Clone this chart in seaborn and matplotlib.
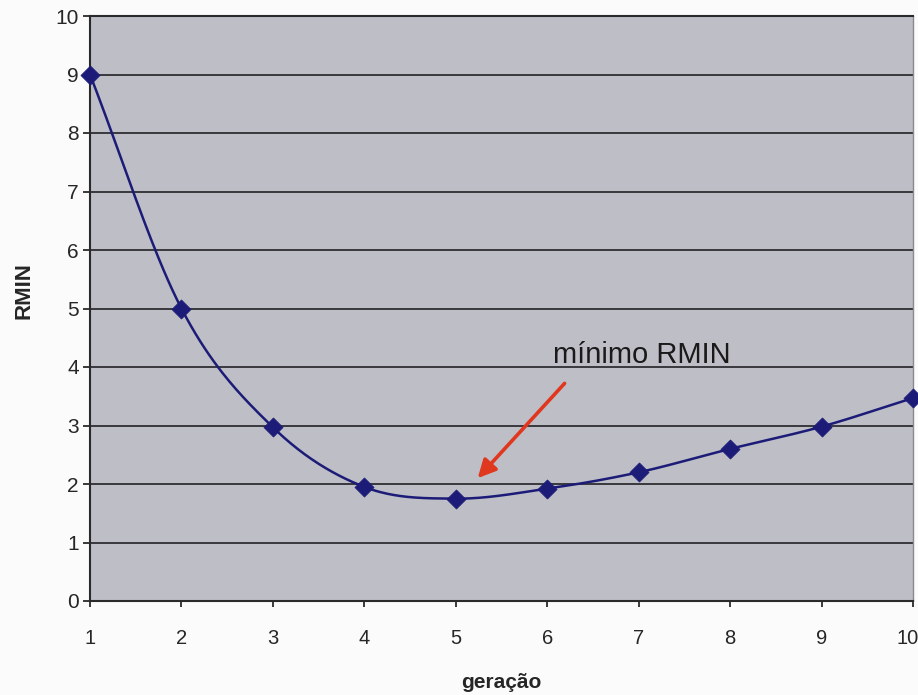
import numpy as np
import pandas as pd
import matplotlib
matplotlib.use("Agg")
import matplotlib.pyplot as plt
import matplotlib.transforms as mtransforms
import seaborn as sns

# RMIN per generation
geracao = [1, 2, 3, 4, 5, 6, 7, 8, 9, 10]
rmin = [9.0, 5.0, 2.97, 1.95, 1.75, 1.92, 2.2, 2.6, 2.98, 3.47]
y_ticks = [0, 1, 2, 3, 4, 5, 6, 7, 8, 9, 10]
annotation_text = "mínimo RMIN"

sns.set_theme(style="white")
plt.rcParams["font.family"] = ["Liberation Sans", "DejaVu Sans"]

df = pd.DataFrame({"geracao": geracao, "RMIN": rmin})


def catmull_rom(xs, ys, n=40):
    """Smoothed curve through the points (uniform Catmull-Rom spline)."""
    xs = np.asarray(xs, float)
    ys = np.asarray(ys, float)
    px = np.concatenate([[2 * xs[0] - xs[1]], xs, [2 * xs[-1] - xs[-2]]])
    py = np.concatenate([[2 * ys[0] - ys[1]], ys, [2 * ys[-1] - ys[-2]]])
    out_x, out_y = [], []
    t = np.linspace(0, 1, n, endpoint=False)
    for i in range(1, len(px) - 2):
        for arr, out in ((px, out_x), (py, out_y)):
            p0, p1, p2, p3 = arr[i - 1], arr[i], arr[i + 1], arr[i + 2]
            out.extend(0.5 * ((2 * p1) + (-p0 + p2) * t
                              + (2 * p0 - 5 * p1 + 4 * p2 - p3) * t ** 2
                              + (-p0 + 3 * p1 - 3 * p2 + p3) * t ** 3))
    out_x.append(xs[-1])
    out_y.append(ys[-1])
    return np.array(out_x), np.array(out_y)


sx, sy = catmull_rom(df["geracao"], df["RMIN"])
smooth = pd.DataFrame({"geracao": sx, "RMIN": sy})

fig = plt.figure(figsize=(9.18, 6.95), dpi=100)
fig.patch.set_facecolor("#fbfbfb")
ax = fig.add_axes([90 / 918, 1 - 601 / 695, 823 / 918, 585 / 695])
ax.set_facecolor("#bebec6")

navy = "#1c1c78"
sns.lineplot(data=smooth, x="geracao", y="RMIN", ax=ax, color=navy,
             linewidth=1.8, sort=False, estimator=None, zorder=3)
sns.scatterplot(data=df, x="geracao", y="RMIN", ax=ax, color=navy,
                marker="D", s=95, edgecolor=navy, linewidth=0.5,
                zorder=4, clip_on=False)

ax.set_xlim(1, 10)
ax.set_ylim(0, 10)
ax.set_yticks(y_ticks)
ax.set_xticks(geracao)
ax.yaxis.grid(True, color="#2e2e32", linewidth=1.3)
ax.xaxis.grid(False)
ax.set_axisbelow(True)

for side in ("left", "bottom", "top"):
    ax.spines[side].set_color("#2a2a2a")
    ax.spines[side].set_linewidth(1.5)
ax.spines["right"].set_color("#8a8a8e")
ax.spines["right"].set_linewidth(1.0)

ax.tick_params(axis="y", direction="out", length=5, width=1.3, color="#2a2a2a",
               pad=3, labelsize=15, left=True)
ax.tick_params(axis="x", direction="out", length=4, width=1.3, color="#2a2a2a",
               pad=16, labelsize=14.5, bottom=True)

# keep the last x label inside the figure edge
last = ax.get_xticklabels()[-1]
last.set_transform(last.get_transform()
                   + mtransforms.ScaledTranslation(-5 / 100, 0, fig.dpi_scale_trans))

ax.set_xlabel("geração", fontsize=15, fontweight="bold", labelpad=18)
ax.set_ylabel("RMIN", fontsize=16, fontweight="bold")
ax.yaxis.set_label_coords(-0.067, 0.53)

ax.annotate("", xy=(5.24, 2.1), xytext=(6.19, 3.72),
            arrowprops=dict(arrowstyle="-|>,head_length=0.9,head_width=0.45",
                            color="#e0371f", lw=2.6, shrinkA=0, shrinkB=0),
            zorder=5)
ax.text(6.06, 4.2, annotation_text, fontsize=21, color="#1a1a1a",
        ha="left", va="center", zorder=5)

fig.savefig("out.png", dpi=100, facecolor=fig.get_facecolor())
